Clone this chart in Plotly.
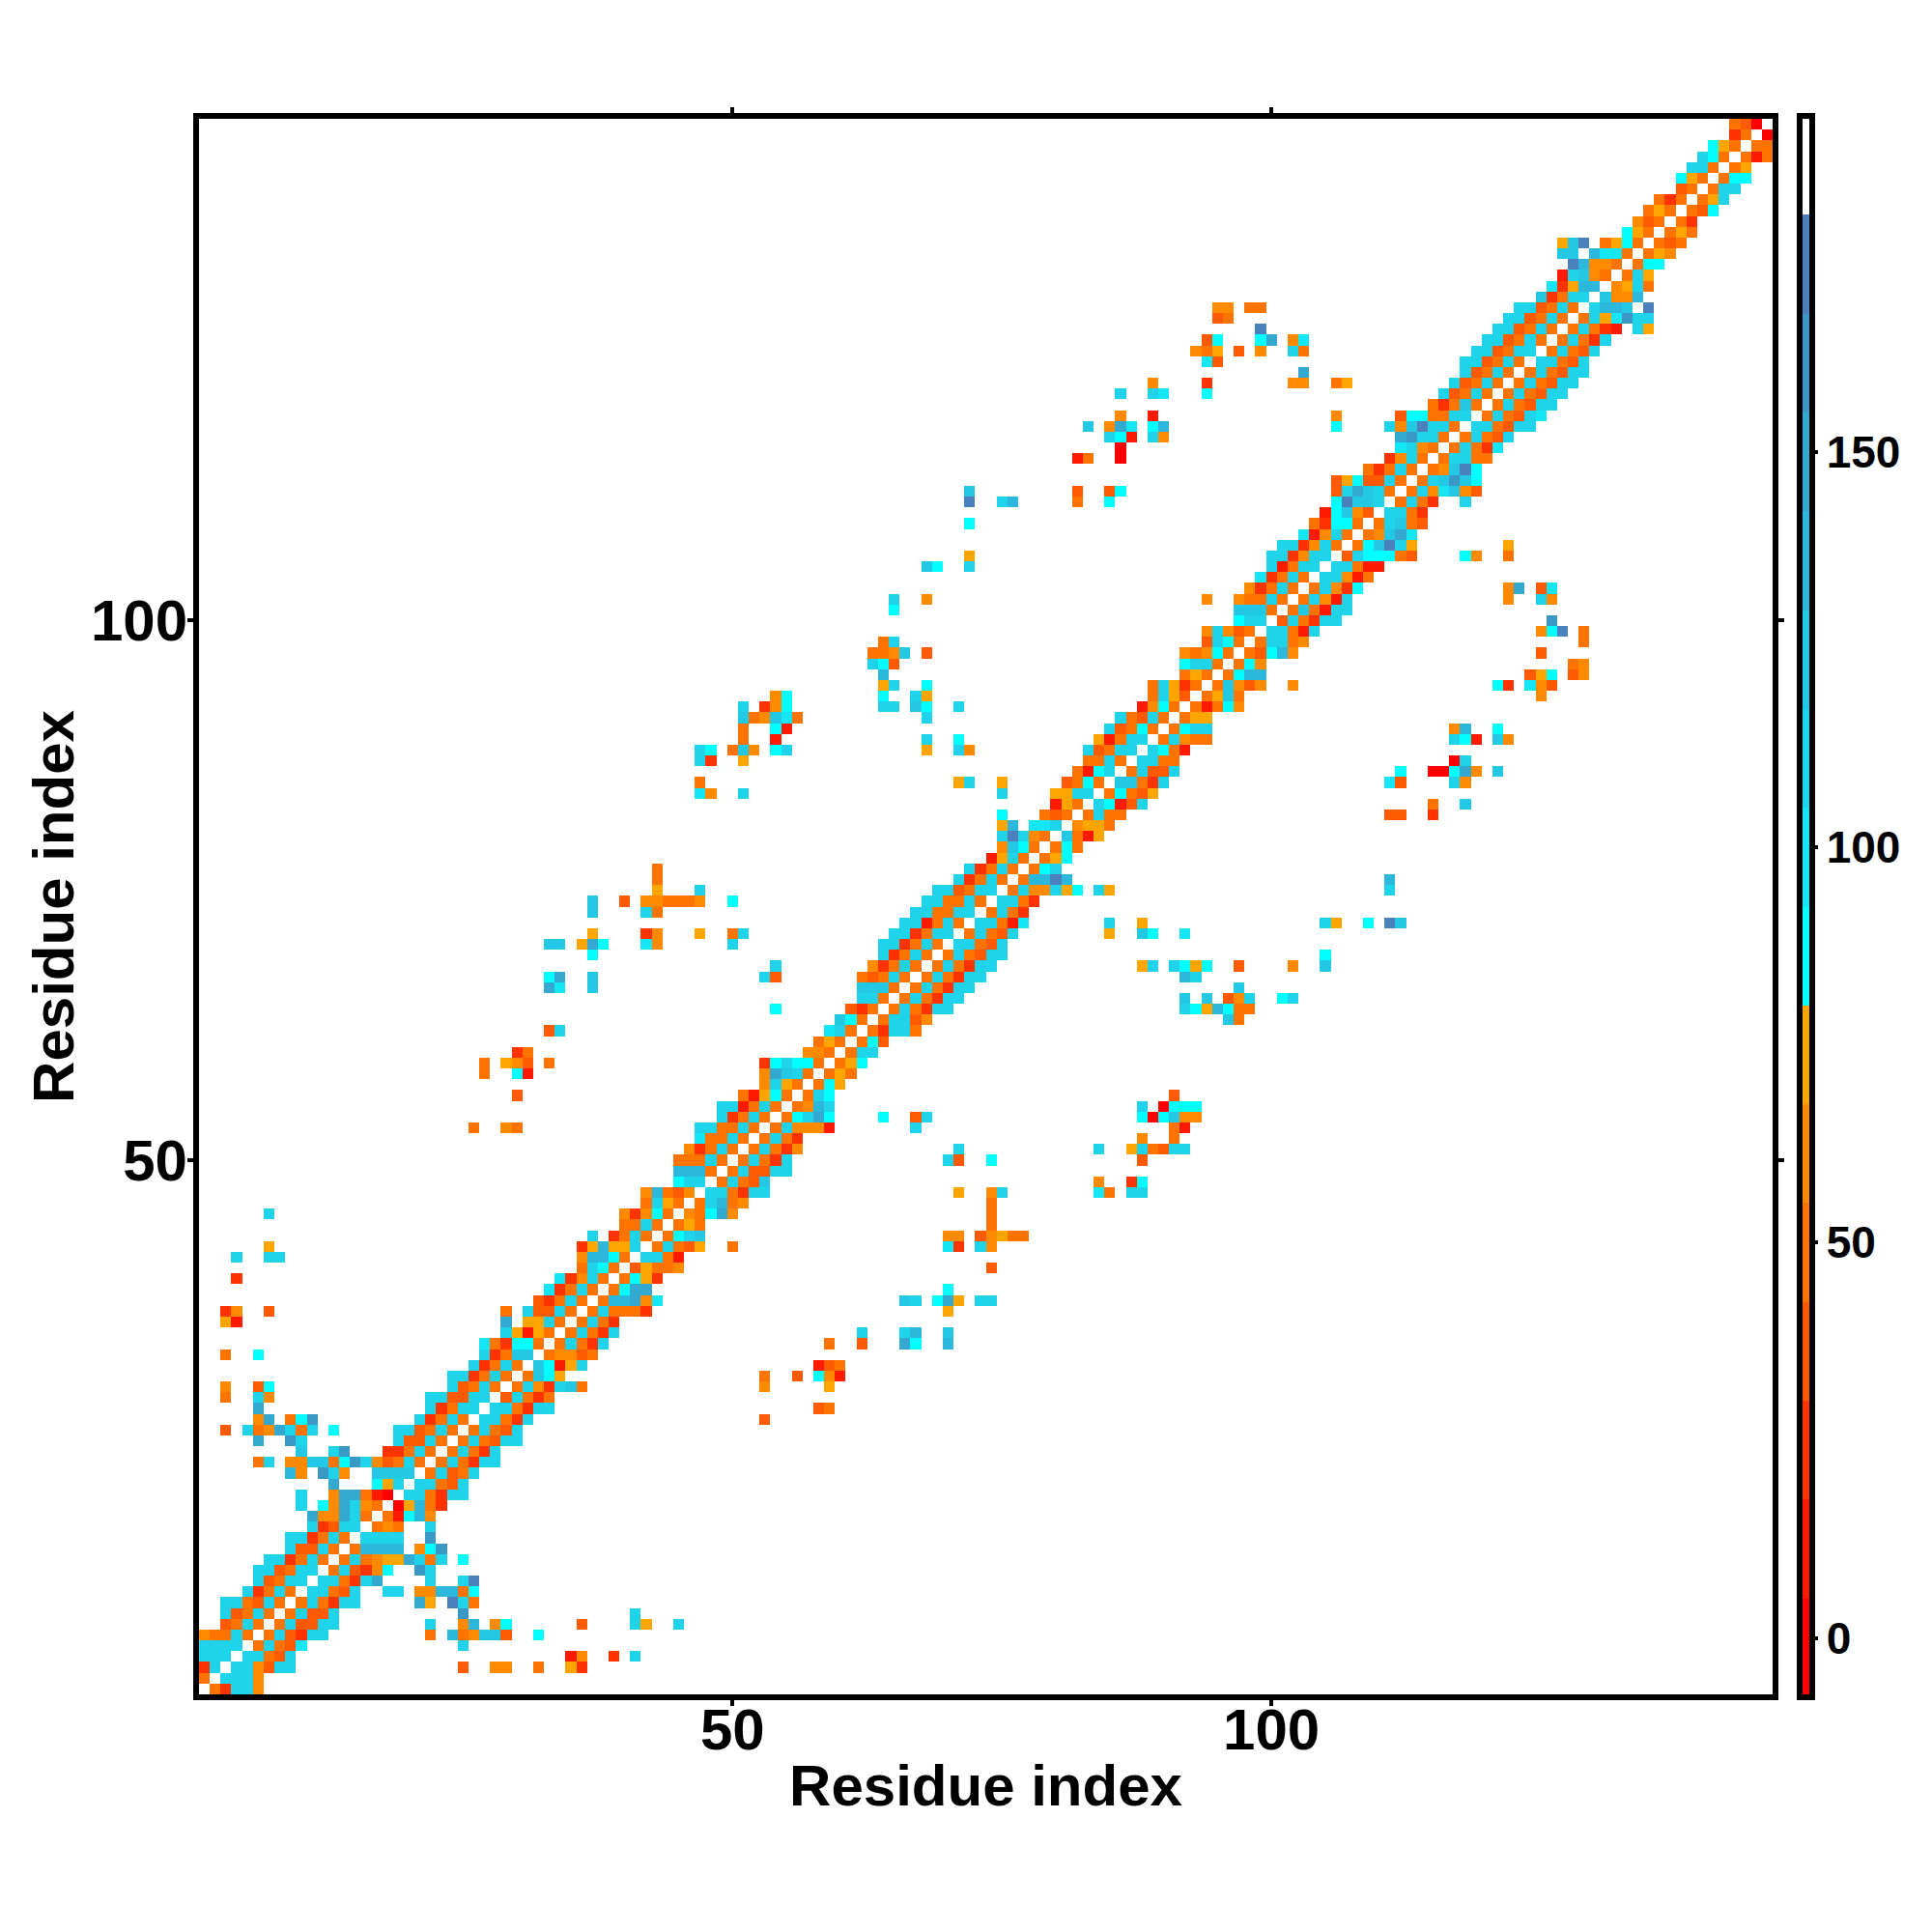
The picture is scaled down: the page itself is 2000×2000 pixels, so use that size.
import plotly.graph_objects as go

# colour classes of the map, lowest first (the top class of the bar is white)
level_codes = "0123456789abcde"
level_values = [-1, 11, 24, 36, 49, 61, 74, 86, 99, 111, 124, 136, 149, 161, 174]
level_colors = ["#ff0000", "#ff1a00", "#ff3300", "#ff5a00", "#ff7300", "#ff8a00", "#ffa500",
                "#00ffff", "#14e6f5", "#1fd4ea", "#22c8e4", "#2bb8dc", "#33a8d0", "#3a98c6", "#4a80bc",
                "#ffffff"]

n_residues = 146
tick_vals = [50, 100]
bar_tick_vals = [0, 50, 100, 150]

# one string per residue: "first_column:classes", "." means no contact
rows_1_50 = [
    "2:42995", "1:4.9995", "1:29.995399 25:3 28:55 32:4 35:62", "1:999.99439 35:15 39:2 41:9",
    "1:9999.49438 25:9", "1:54494.493299 22:4 24:b45aa3 32:7",
    "3:3494.493399 22:9 25:5b 28:57 36:3 41:96 45:9", "3:93494.49339 25:d 41:9",
    "3:994394.494299 21:c6 24:e94", "5:92494.99439 18:99 21:55bb47", "6:93499.99429c 22:9 25:9e",
    "6:993499.493257 21:d9", "7:992494.494566c949.7", "9:93394.4bbbb.57d", "9:992494.9999..d",
    "11:92399.454..9", "11:c55c94.417b5", "10:9.75c954.06b42", "10:9..5cc410.994299",
    "13:c 17:769.99439", "9:b5.d95 17:aaaa.49349", "6:49.55aa47d953494.494299",
    "10:a 13:9d 18:22494.49429", "6:c 9:d9 19:93394.494399", "3:3 5:945c949 13:7 19:993494.49439",
    "6:5c.47d 21:92494.99429 53:3", "6:c 22:92499.994299 58:34", "3:4 6:95 22:993399.39424",
    "3:5 6:37 24:93494.49529a4 53:5 59:6", "24:992494.4a76 53:4 56:3 58:751", "26:92494.a7169 58:134",
    "3:4 6:7 27:924aa.45534", "27:842774.49429 59:4 62:3 66:c7 70:b", "29:96164.49429 62:9 66:9b 70:a",
    "3:61 29:c.6694.4942", "3:25 7:3 29:4.93394.494442 70:6", "32:32494.4bbc58 66:a9 69:7c6 73:99",
    "33:82494.47cc 70:7", "4:2 34:82594.4762", "36:4974.36445 74:3",
    "4:9 7:99 36:5bb74.9941", "7:6 36:26b669.49436 50:4 70:82 73:95",
    "37:9 39:2494.479a 70:55 73:35644", "40:4494.464 74:4", "7:9 40:52574.547c5 74:4",
    "42:4964.49b45 74:4", "42:5b435.994299 71:6 74:59 84:84 87:99", "45:799.4943a 84:5 87:27",
    "45:bbb4.493399", "45:44494.49429 70:93 74:7 88:3",
]
rows_51_100 = [
    "46:52494.49425 71:9 84:9 87:694399", "47:84494.4942 88:5 91:4",
    "26:4 29:54 47:994494.495551 67:9 91:41", "49:92494.479c7 64:7 67:39 88:707a55",
    "49:991494.45b9 88:9 90:0777", "30:3 51:41674.497 91:3", "53:5964.476", "27:4 30:71 53:5ca94.464",
    "27:4 29:653 33:4 53:279774.467", "30:24 57:554.499", "58:464.473", "33:39 59:894.42994",
    "60:a74.49935 96:a4", "54:7 61:324.494299 92:976b744", "62:994.494299 92:a 94:a 96:359 101:79",
    "33:c8 37:a 62:aaa4.494299 97:a", "33:7c 37:a 53:93 62:43494.494299 92:b9",
    "54:9 63:52494.494299 88:69 91:9767 97:3 102:5 105:a", "37:7 64:92494.494399 105:7",
    "33:aa 36:6c7 42:85 50:9 64:992494.99439", "37:6 42:25 47:6 50:49 65:992499.49439 85:6 88:a7 92:8",
    "66:991494.99418 85:9 88:6 105:96 109:7 111:ea", "37:a 42:94 67:994499.4942",
    "37:a 40:3 42:554445 50:7 68:994494.9942", "43:6 47:9 69:993499.4955967 84:96 111:9",
    "43:4 71:92494.4bbeb 111:b", "43:4 72:92494.479", "74:1694.467", "75:5a74.474", "75:9e954.a416",
    "75:6b 78:889.5664", "75:7 79:434.4944 111:33 115:2", "80:164.97139 115:4 118:a",
    "47:85 51:9 75:9 80:6699.47436", "47:4 71:69 75:6 81:3474.aa429 111:83 117:95",
    "82:4179.49339 112:7 115:007c5 121:a", "47:92 51:6 83:4494.9944 117:09",
    "47:97 50:4a5 54:79 68:6 71:95 83:93499.9741", "51:4 54:1 68:9 71:7 84:61499.49544 117:971 121:a5",
    "51:4 54:71 85:93474.4799 117:5b 121:7", "51:a45a84 68:9 86:94394.466",
    "51:9.257 64:99 67:a7 71:9 88:1574.41475", "54:57 64:7 67:96 89:4963.46a4 125:5",
    "64:69 68:7 89:49624.4a535 102:5 121:72 124:853", "64:b 92:464.47bb 124:367 128:35",
    "63:973 92:7994.475 128:45", "63:445a 68:3 92:54574.437b5 125:3", "64:49 94:3974.49945 129:4",
    "94:59534.99419 125:57e 129:4", "97:799.394299 126:d",
]
rows_101_146 = [
    "65:7 97:aaa4.4a4199", "65:9 68:5 94:5 97:54494.49519 122:5 125:95", "98:52494.49527 122:5c 125:38",
    "99:82494.99514", "68:a7 72:9 100:91499.99411", "72:6 100:992599.3977743 118:75 122:4",
    "101:992594.47ae96 122:6", "103:81594.45ac8", "72:7 104:42774.49a43", "105:17a53.9942",
    "72:e 75:9b 82:4 85:7 106:7eaa9.4942 118:9", "72:a 82:3 85:37 106:39ca94.4958a53",
    "106:3673394.49ada7", "109:42494.45ae7", "82:14 86:0 111:2594.49944", "86:0 112:8954.49428",
    "85:971 89:95 112:cd994.49439", "83:a 85:5c8 89:7b 106:7 111:95ae994.994399",
    "86:5 89:1 106:5 112:3774499.494398", "115:424a4.494399", "86:9 89:98 94:7 116:93494.494399",
    "89:5 94:2 102:55 106:46 117:93494.494399", "103:c 118:93494.494399", "94:83 118:993494.99439",
    "93:546 97:3 99:5 102:94 119:993499.49439", "94:37 99:7c 102:58 120:993494.49429",
    "99:e 121:993494.49421.96", "95:34 122:993494.4968d99", "95:55 98:44 123:993494.9bba.e",
    "125:a2499.a55b", "126:826bb.5694", "127:19a54.496", "128:eb554.477", "127:aa.b884.465",
    "127:6ae.4674.434", "133:764.464", "134:534.42", "135:464.437", "136:424.469", "138:34.499",
    "138:764.477", "139:994.46", "140:974.414", "141:764.44", "143:24.0", "143:430.",
]

residues = list(range(1, n_residues + 1))
z = [[None] * n_residues for _ in residues]
for r, row in enumerate(rows_1_50 + rows_51_100 + rows_101_146):
    for part in row.split():
        first, codes = part.split(":")
        for k, code in enumerate(codes):
            if code != ".":
                z[r][int(first) - 1 + k] = level_values[level_codes.index(code)]

# stepped colour scale, 16 equal classes
scale = []
for i, col in enumerate(level_colors):
    scale.append([i / 16, col])
    scale.append([(i + 1) / 16, col])

fig = go.Figure()
fig.add_trace(go.Heatmap(
    x=residues, y=residues, z=z, zmin=-7.5, zmax=192.5, colorscale=scale, hoverongaps=False,
    colorbar=dict(x=1.0172, xanchor="left", xpad=0, ypad=0, y=0.5, yanchor="middle", len=1.0037,
                  thickness=13, outlinewidth=6, outlinecolor="black",
                  tickmode="array", tickvals=bar_tick_vals, ticks="outside", ticklen=3, tickwidth=4,
                  tickcolor="black",
                  tickfont=dict(family="Liberation Sans", size=46, color="black", weight="bold")),
))

axis_style = dict(range=[0.5, n_residues + 0.5], tickmode="array", tickvals=tick_vals,
                  showgrid=False, zeroline=False, showline=True, linewidth=6, linecolor="black",
                  mirror="ticks", ticks="outside", ticklen=6, tickwidth=4, tickcolor="black",
                  tickfont=dict(family="Liberation Sans", size=60, color="black", weight="bold"))
title_font = dict(family="Liberation Sans", size=60, color="black", weight="bold")

fig.update_xaxes(title=dict(text="Residue index", font=title_font, standoff=6), ticklabelstandoff=-27, **axis_style)
fig.update_yaxes(title=dict(text="Residue index", font=title_font, standoff=0), ticklabelstandoff=-12, **axis_style)
fig.update_layout(width=2000, height=2000, autosize=False, plot_bgcolor="white", paper_bgcolor="white",
                  margin=dict(l=198, r=173, t=115, b=254, autoexpand=False))

fig.write_html("out.html")
